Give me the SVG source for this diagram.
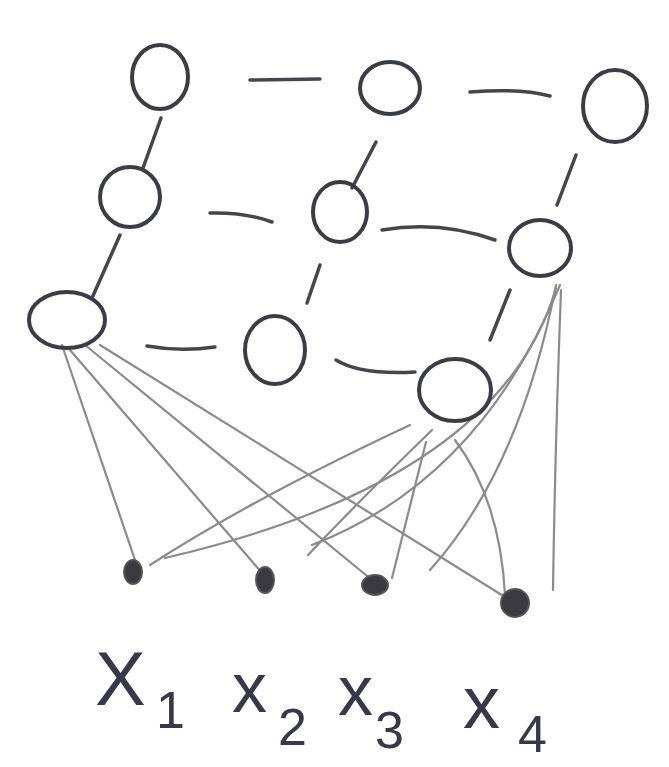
<svg xmlns="http://www.w3.org/2000/svg" width="669" height="767" viewBox="0 0 669 767">
<style>
.n{fill:none;stroke:#3c3c48;stroke-width:4;stroke-linecap:round}
.e{fill:none;stroke:#45454f;stroke-width:3.5;stroke-linecap:round}
.w{fill:none;stroke:#8a8a90;stroke-width:2.2;stroke-linecap:round}
.d{fill:#3a3a40;stroke:#555;stroke-width:2}
.t{font-family:"Liberation Sans",Arial,sans-serif;fill:#38384a}
</style>
<rect width="669" height="767" fill="#fff"/>
<g id="connectors">
<path class="e" d="M250 80 L320 79"/>
<path class="e" d="M470 92 Q520 88 550 96"/>
<path class="e" d="M210 213 Q245 212 272 222"/>
<path class="e" d="M382 230 Q440 220 495 240"/>
<path class="e" d="M147 346 Q180 352 215 347"/>
<path class="e" d="M336 360 Q360 375 415 372"/>
<path class="e" d="M161 118 L143 168"/>
<path class="e" d="M376 142 L352 188"/>
<path class="e" d="M576 155 L557 205"/>
<path class="e" d="M120 235 L92 298"/>
<path class="e" d="M320 265 L307 303"/>
<path class="e" d="M510 290 L490 340"/>
<path class="w" d="M62 345 L135 560"/>
<path class="w" d="M70 350 L262 573"/>
<path class="w" d="M85 345 L372 580"/>
<path class="w" d="M100 345 L505 597"/>
<path class="w" d="M410 425 Q250 500 150 565"/>
<path class="w" d="M432 430 Q360 500 308 555"/>
<path class="w" d="M426 442 L392 578"/>
<path class="w" d="M455 440 Q500 500 505 595"/>
<path class="w" d="M556 288 Q500 480 165 558"/>
<path class="w" d="M560 285 Q480 480 312 545"/>
<path class="w" d="M556 285 Q520 470 430 570"/>
<path class="w" d="M561 290 Q555 450 553 590"/>
</g>
<g id="n1"><ellipse class="n" cx="160" cy="77" rx="28" ry="32"/></g>
<g id="n2"><ellipse class="n" cx="390" cy="88" rx="30" ry="26"/></g>
<g id="n3"><ellipse class="n" cx="615" cy="106" rx="32" ry="36"/></g>
<g id="n4"><ellipse class="n" cx="130" cy="197" rx="30" ry="30"/></g>
<g id="n5"><ellipse class="n" cx="340" cy="212" rx="27" ry="30"/></g>
<g id="n6"><ellipse class="n" cx="540" cy="248" rx="31" ry="28"/></g>
<g id="n7"><ellipse class="n" cx="67" cy="320" rx="38" ry="28"/></g>
<g id="n8"><ellipse class="n" cx="275" cy="350" rx="30" ry="34"/></g>
<g id="n9"><ellipse class="n" cx="455" cy="390" rx="36" ry="31"/></g>
<g id="x1"><ellipse class="d" cx="133" cy="572" rx="9" ry="12"/><text class="t" x="95" y="705" font-size="76">X</text><text class="t" x="156" y="728" font-size="52">1</text></g>
<g id="x2"><ellipse class="d" cx="265" cy="580" rx="9" ry="13"/><text class="t" x="232" y="712" font-size="70">x</text><text class="t" x="278" y="745" font-size="52">2</text></g>
<g id="x3"><ellipse class="d" cx="375" cy="585" rx="13" ry="10"/><text class="t" x="338" y="715" font-size="70">x</text><text class="t" x="375" y="748" font-size="52">3</text></g>
<g id="x4"><circle class="d" cx="515" cy="603" r="14"/><text class="t" x="463" y="728" font-size="74">x</text><text class="t" x="518" y="752" font-size="52">4</text></g>
</svg>
